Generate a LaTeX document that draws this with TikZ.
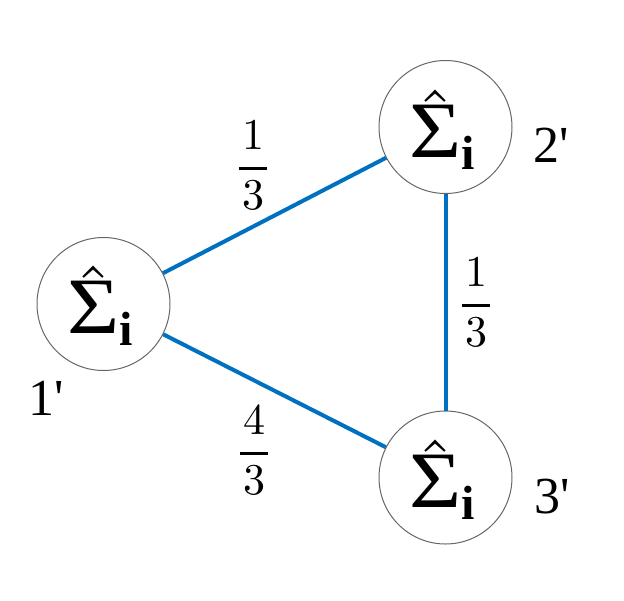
\documentclass[tikz,border=0pt]{standalone}
\usepackage{amsmath}
\usepackage{graphicx}
\usepackage[no-math]{fontspec}
\newfontfamily\tnr{Liberation Serif}
\definecolor{edgeblue}{RGB}{0,112,192}
\newcommand\sigmahat{$\hat{\mbox{\smash{\scalebox{1.12}[1]{\tnr Σ}}\rule{0pt}{5.8pt}}}_{\mbox{\tnr\bfseries\fontsize{6}{7}\selectfont i}}$}
\newcommand\wfrac[2]{$\genfrac{}{}{0.7pt}{0}{\hspace{.7pt}#1\hspace{.7pt}}{#2}$}
\begin{document}
\begin{tikzpicture}[x=1pt,y=-1pt,
  vertex/.style={circle,draw=black!60,line width=1pt,minimum size=133pt,inner sep=0pt},
  edge/.style={draw=edgeblue,line width=4pt},
  sig/.style={scale=8,inner sep=0pt,anchor=base west},
  tag/.style={scale=5.2,inner sep=0pt,anchor=base,font=\tnr},
  wt/.style={scale=4.4,inner sep=0pt}]
\useasboundingbox (0,0) rectangle (624,600);
\node[vertex] (c1) at (103.5,304) {};
\node[vertex] (c2) at (445.5,127) {};
\node[vertex] (c3) at (445.5,477.5) {};
\draw[edge] (c1) -- (c2);
\draw[edge] (c2) -- (c3);
\draw[edge] (c1) -- (c3);
\node[sig] (s1) at (66,333) {\sigmahat};
\node[sig] (s2) at (408,157) {\sigmahat};
\node[sig] (s3) at (408,507) {\sigmahat};
\node[tag] (l1) at (46,415) {1'};
\node[tag] (l2) at (551,162) {2'};
\node[tag] (l3) at (552,513) {3'};
\node[wt] (w12) at (253,165.5) {\wfrac{1}{3}};
\node[wt] (w23) at (476,302.5) {\wfrac{1}{3}};
\node[wt] (w13) at (254,450.5) {\wfrac{4}{3}};
\end{tikzpicture}
\end{document}
